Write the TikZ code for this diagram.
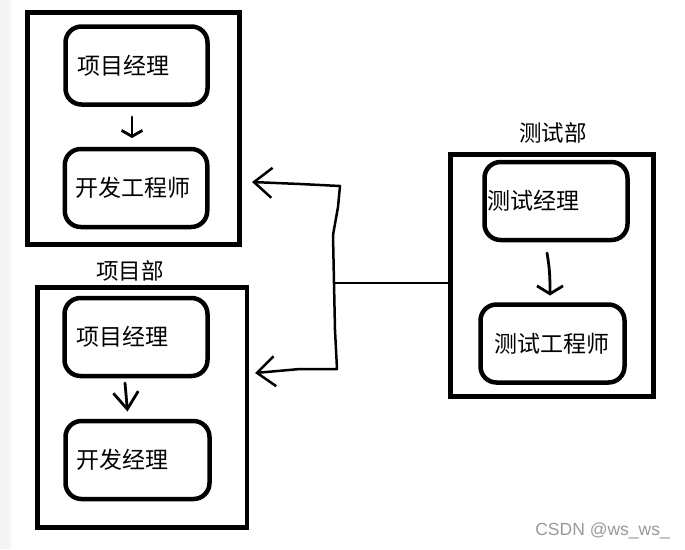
\documentclass[tikz,border=0pt]{standalone}
\usepackage{fontspec}
\newfontfamily\cjk{Noto Sans CJK SC}
\setsansfont{Liberation Sans}
\usetikzlibrary{arrows.meta,calc}
\begin{document}
\begin{tikzpicture}[x=1pt,y=-1pt,
  dept/.style={draw, line width=4.5pt, rectangle, outer sep=0pt, inner sep=0pt},
  rbox/.style={draw, line width=4.5pt, rounded corners=16pt, outer sep=0pt,
    minimum height=78pt, align=left, inner ysep=0pt, font=\cjk\fontsize{23}{27}\selectfont},
  lbl/.style={font=\cjk\fontsize{22.5}{26}\selectfont, inner sep=0pt},
  inarr/.style={line width=2.8pt, line cap=round},
  link/.style={line width=2.5pt, line join=round, line cap=round},
  bigtip/.style={-{Straight Barb[length=18pt,width=30pt]}}
]
\useasboundingbox (0,0) rectangle (685,549);
\fill[white] (0,0) rectangle (685,549);
\fill[black!4] (0,0) rectangle (11,549);

% department boxes
\node[dept, minimum width=212pt, minimum height=232pt] (dept1) at (133.5,128.5) {};
\node[dept, minimum width=209.5pt, minimum height=240pt] (dept2) at (142.25,407.5) {};
\node[dept, minimum width=203pt, minimum height=242pt] (dept3) at (552,275.5) {};

\node[lbl] (lab2) at (130,271) {项目部};
\node[lbl] (lab3) at (553,133) {测试部};

% inner boxes
\node[rbox, inner xsep=11.5pt, text width=119pt] (n11) at (136.5,65.5) {项目经理};
\node[rbox, inner xsep=11pt, text width=120.5pt] (n12) at (136,188) {开发工程师};
\node[rbox, inner xsep=11.5pt, text width=120pt] (n21) at (136,337) {项目经理};
\node[rbox, inner xsep=10.5pt, text width=123pt] (n22) at (137.5,460) {开发经理};
\node[rbox, inner xsep=3pt, text width=137pt] (n31) at (556,201) {测试经理};
\node[rbox, inner xsep=13.5pt, text width=117pt] (n32) at (552.5,343.5) {测试工程师};

% inner arrows
\draw[inarr, -{Straight Barb[length=6pt,width=21pt]}]
  ([xshift=-4.5pt,yshift=-12.5pt]n11.south) -- ([xshift=-4pt,yshift=11pt]n12.north);
\draw[inarr, -{Straight Barb[length=17pt,width=25pt]}]
  ([xshift=-11pt,yshift=-7pt]n21.south) -- ([xshift=-10pt,yshift=9.5pt]n22.north);
\draw[inarr, -{Straight Barb[length=8pt,width=26pt]}]
  ([xshift=-9pt,yshift=-13pt]n31.south) to[out=-80,in=90] ([xshift=-2.5pt,yshift=9pt]n32.north);

% connector
\coordinate (jm) at (334,283);
\coordinate (jt) at (340,186);
\coordinate (jb) at (337,369);
\coordinate (t1) at ($(dept1.east)+(12.5,53.5)$);
\coordinate (t2) at ($(dept2.east)+(8,-34.5)$);
\draw[link] (dept3.west |- jm) -- (380,283) -- (jm);
\draw[link, bigtip] (jm) -- (333,235) -- (338,207) -- (jt) -- (300,184) -- (t1);
\draw[link, bigtip] (jm) -- (335,330) -- (jb) -- (300,369) -- (t2);

\node[font=\sffamily\fontsize{17.5}{19}\selectfont, text=black!40, anchor=east, inner sep=0pt] (wm) at (670,531) {CSDN @ws\_ws\_};
\end{tikzpicture}
\end{document}
